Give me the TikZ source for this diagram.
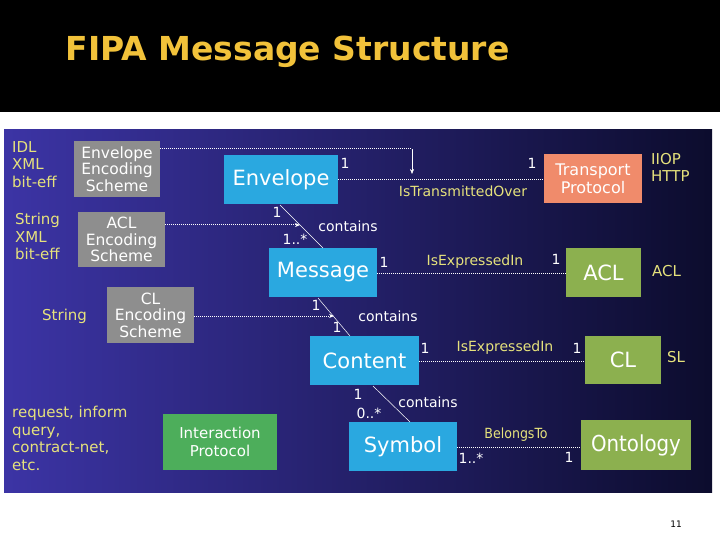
\documentclass[tikz,border=0pt]{standalone}
\usepackage{fontspec}
\setmainfont{DejaVu Sans}
\newfontfamily\condf{DejaVu Sans Condensed}
\usetikzlibrary{arrows.meta}
\definecolor{bluebox}{HTML}{2AA8E0}
\definecolor{graybox}{HTML}{8E8E8E}
\definecolor{orangebox}{HTML}{F08B6B}
\definecolor{greenbox}{HTML}{8CB04F}
\definecolor{ipgreen}{HTML}{4DAE5B}
\definecolor{yel}{HTML}{E6E27C}
\definecolor{titlecol}{HTML}{F2C23A}
\tikzset{
  px/.style={x=1pt,y=-1pt},
  bx/.style={inner sep=0pt,text=white,align=center},
  grayb/.style={bx,fill=graybox,font=\fontsize{15.5}{16.5}\selectfont},
  blueb/.style={bx,fill=bluebox,font=\fontsize{21}{24}\selectfont},
  greenb/.style={bx,fill=greenbox,font=\fontsize{21}{24}\selectfont},
  ylab/.style={text=yel,font=\fontsize{15}{17.5}\selectfont,align=left,inner sep=0pt},
  wlab/.style={text=white,font=\fontsize{14}{15}\selectfont,inner sep=0pt},
  rlab/.style={text=yel,font=\fontsize{14}{15}\selectfont,inner sep=0pt},
  dots/.style={white,densely dotted,line width=1pt},
  cont/.style={white,line width=0.5pt},
}
\begin{document}
\begin{tikzpicture}[px]
\useasboundingbox (0,0) rectangle (720,540);
\fill[white] (0,0) rectangle (720,540);
\fill[black] (0,0) rectangle (720,112);
\node[anchor=west,text=titlecol,font=\bfseries\fontsize{33}{36}\selectfont] (title) at (62,52) {FIPA Message Structure};
\shade[left color={rgb,255:red,60;green,52;blue,165},right color={rgb,255:red,12;green,12;blue,45}] (4,130) rectangle (712,492);
\node[font=\fontsize{9}{10}\selectfont] (pg) at (676,524) {11};

% boxes
\node[grayb,minimum width=86pt,minimum height=56pt] (ees) at (117,169) {Envelope\\Encoding\\Scheme};
\node[grayb,minimum width=87pt,minimum height=55pt] (aes) at (121.5,239.5) {ACL\\Encoding\\Scheme};
\node[grayb,minimum width=87pt,minimum height=56pt] (ces) at (150.5,315) {CL\\Encoding\\Scheme};
\node[blueb,minimum width=114pt,minimum height=49pt] (env) at (281,179.5) {Envelope};
\node[blueb,minimum width=108pt,minimum height=49pt] (msg) at (323,272.5) {Message};
\node[blueb,minimum width=109pt,minimum height=49pt] (cnt) at (364.5,360.5) {Content};
\node[blueb,minimum width=108pt,minimum height=49pt] (sym) at (403,446.5) {Symbol};
\node[bx,fill=orangebox,minimum width=98pt,minimum height=49pt,font=\fontsize{16}{18}\selectfont] (tp) at (593,178.5) {Transport\\Protocol};
\node[greenb,minimum width=75pt,minimum height=49pt] (acl) at (603.5,272.5) {ACL};
\node[greenb,minimum width=76pt,minimum height=48pt] (cl) at (623,360) {CL};
\node[greenb,minimum width=110pt,minimum height=50pt,font=\condf\fontsize{22}{24}\selectfont] (ont) at (636,445) {Ontology};
\node[bx,fill=ipgreen,minimum width=114pt,minimum height=56pt,font=\fontsize{15}{18}\selectfont] (ip) at (220,442) {Interaction\\Protocol};

% yellow side text
\node[ylab,anchor=north west] (t1) at (12,141) {IDL\\XML\\bit-eff};
\node[ylab,anchor=north west] (t2) at (15,213) {String\\XML\\bit-eff};
\node[ylab,anchor=west] (t3) at (42,316) {String};
\node[ylab,anchor=north west] (t4) at (12,406) {request, inform\\query,\\contract-net,\\etc.};
\node[ylab,anchor=north west] (t5) at (651,153) {IIOP\\HTTP};
\node[ylab,anchor=west] (t6) at (652,271) {ACL};
\node[ylab,anchor=west] (t7) at (667,357) {SL};

% connectors
\coordinate (c1) at (412,149);
\coordinate (c1e) at (412,174);
\draw[dots] (ees.east |- c1) -- (c1);
\draw[white,-{Stealth[length=5pt,width=4pt]}] (c1) -- (c1e);
\draw[dots] (env.east |- 0,180) -- (tp.west |- 0,180);
\node[wlab] (l1) at (345,163) {1};
\node[wlab] (l2) at (532,163) {1};
\node[rlab] (l3) at (463,191) {IsTransmittedOver};

\coordinate (m1) at (280,205);
\coordinate (m2) at (323,248);
\draw[cont] (m1) -- (m2);
\coordinate (a1) at (300,225);
\draw[dots,-{Stealth[length=5pt,width=4pt]}] (aes.east |- a1) -- (a1);
\node[wlab] (l4) at (277,212) {1};
\node[wlab] (l5) at (295,239) {1..*};
\node[wlab] (l6) at (348,226) {contains};

\draw[dots] (msg.east |- 0,273) -- (acl.west |- 0,273);
\node[wlab] (l7) at (384,262) {1};
\node[rlab] (l8) at (475,262) {IsExpressedIn};
\node[wlab] (l9) at (556,259) {1};

\coordinate (n1) at (318,298);
\coordinate (n2) at (350,336);
\draw[cont] (n1) -- (n2);
\coordinate (b1) at (334,316);
\draw[dots,-{Stealth[length=5pt,width=4pt]}] (ces.east |- b1) -- (b1);
\node[wlab] (l10) at (316,305) {1};
\node[wlab] (l11) at (337,327) {1};
\node[wlab] (l12) at (388,316) {contains};

\draw[dots] (cnt.east |- 0,361) -- (cl.west |- 0,361);
\node[wlab] (l13) at (425,348) {1};
\node[rlab] (l14) at (505,348) {IsExpressedIn};
\node[wlab] (l15) at (577,348) {1};

\coordinate (s1) at (373,386);
\coordinate (s2) at (410,422);
\draw[cont] (s1) -- (s2);
\node[wlab] (l16) at (358,394) {1};
\node[wlab] (l17) at (369,413) {0..*};
\node[wlab] (l18) at (428,402) {contains};

\draw[dots] (sym.east |- 0,447) -- (ont.west |- 0,447);
\node[rlab,font=\condf\fontsize{14}{15}\selectfont] (l19) at (516,435) {BelongsTo};
\node[wlab] (l20) at (471,458) {1..*};
\node[wlab] (l21) at (569,457) {1};
\end{tikzpicture}
\end{document}
